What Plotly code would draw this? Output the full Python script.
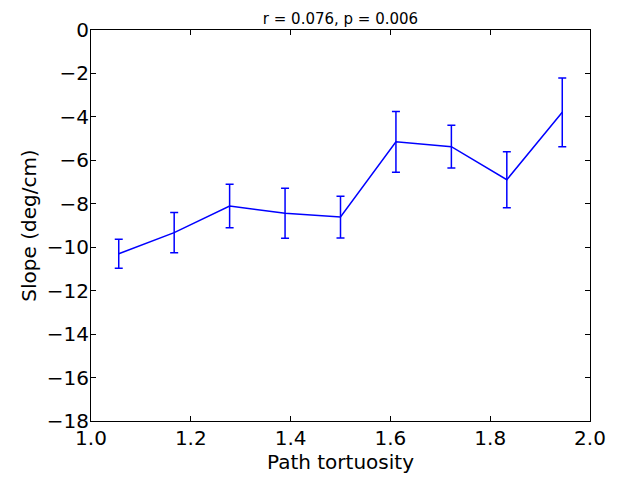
import plotly.graph_objects as go

# Binned path tortuosity vs. mean slope, with standard-error bars
tortuosity = [1.0556, 1.1667, 1.2778, 1.3889, 1.5000, 1.6111, 1.7222, 1.8333, 1.9444]
slope = [-10.30, -9.33, -8.10, -8.44, -8.61, -5.15, -5.37, -6.89, -3.79]
slope_err = [0.67, 0.93, 1.00, 1.15, 0.96, 1.40, 0.98, 1.29, 1.58]

x_tick_vals = [1.0, 1.2, 1.4, 1.6, 1.8, 2.0]
x_tick_text = ["1.0", "1.2", "1.4", "1.6", "1.8", "2.0"]
y_tick_vals = [0, -2, -4, -6, -8, -10, -12, -14, -16, -18]
y_tick_text = ["0", "\u22122", "\u22124", "\u22126", "\u22128",
               "\u221210", "\u221212", "\u221214", "\u221216", "\u221218"]

FONT = "DejaVu Sans"

fig = go.Figure()
fig.add_trace(go.Scatter(
    x=tortuosity,
    y=slope,
    mode="lines",
    line=dict(color="#0000ff", width=1.5),
    error_y=dict(type="data", array=slope_err, visible=True,
                 color="#0000ff", thickness=1.5, width=4),
    showlegend=False,
))

axis_common = dict(
    showline=True, linecolor="black", linewidth=1, mirror="ticks",
    ticks="inside", ticklen=5, tickwidth=1, tickcolor="black",
    showgrid=False, zeroline=False,
    tickfont=dict(family=FONT, size=20, color="black"),
)

fig.update_layout(
    width=623, height=478,
    margin=dict(l=91, r=33, t=30, b=48),
    paper_bgcolor="white", plot_bgcolor="white",
    title=dict(text="r = 0.076, p = 0.006", x=0.5, xref="paper",
               y=1, yref="paper", yanchor="bottom", pad=dict(b=6),
               font=dict(family=FONT, size=15, color="black")),
    xaxis=dict(range=[1.0, 2.0], tickvals=x_tick_vals, ticktext=x_tick_text,
               ticklabelstandoff=-1,
               title=dict(text="Path tortuosity", standoff=2,
                          font=dict(family=FONT, size=20, color="black")),
               **axis_common),
    yaxis=dict(range=[-18, 0], tickvals=y_tick_vals, ticktext=y_tick_text,
               ticklabelstandoff=-3,
               title=dict(text="Slope (deg/cm)", standoff=4,
                          font=dict(family=FONT, size=20, color="black")),
               **axis_common),
)

fig.write_html("out.html")
